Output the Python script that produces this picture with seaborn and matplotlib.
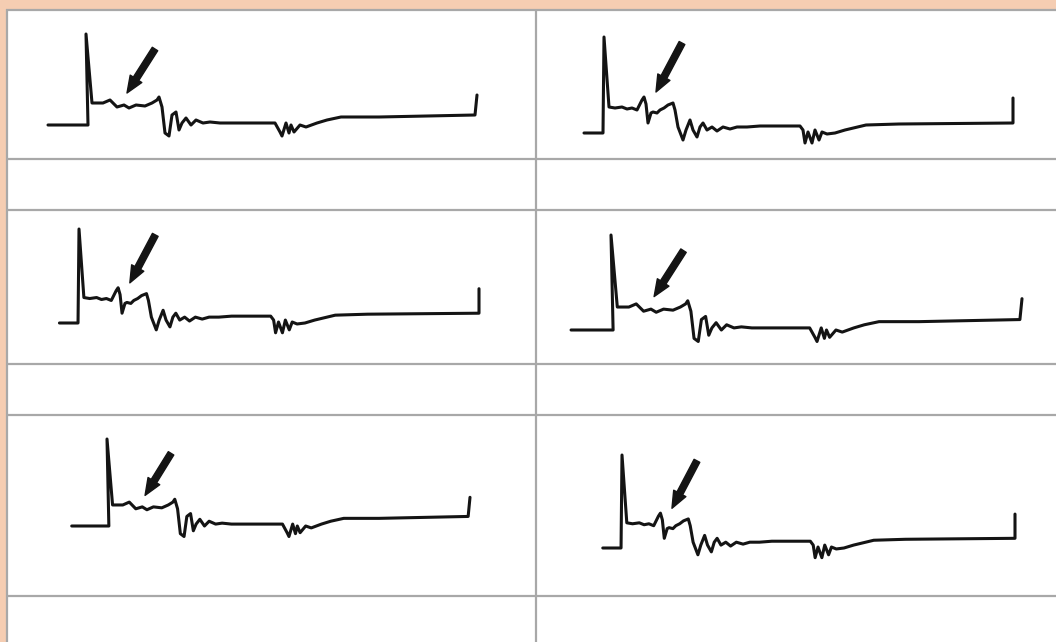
import matplotlib
matplotlib.use("Agg")
import matplotlib.pyplot as plt
import seaborn as sns
import numpy as np
from matplotlib.patches import Rectangle

sns.set_theme(style="white")

# ---- Trace variant A (pixel units of that panel)
trace_a_x = [48, 88, 86, 92, 103, 110, 117, 124, 129, 136, 145, 152, 157, 159,
             162, 165, 169, 172, 176, 179, 182, 186, 191, 196, 203, 210, 220,
             241, 275, 280, 282, 286, 289, 291, 294, 300, 306, 317, 327, 341,
             379, 475, 477]
trace_a_y = [125, 125, 34, 103, 103, 100, 107, 105, 108, 105, 106, 103, 100, 97,
             107, 133, 136, 115, 112, 130, 123, 118, 125, 120, 123, 122, 123,
             123, 123, 132, 136, 123, 133, 125, 132, 125, 127, 123, 120, 117,
             117, 115, 95]
arrow_a_tail = (155, 49)
arrow_a_tip = (127, 93)

# ---- Trace variant B (pixel units of that panel)
trace_b_x = [584, 603, 604, 609, 615, 622, 627, 632, 637, 642, 644, 646, 648,
             651, 653, 657, 660, 664, 668, 673, 675, 678, 683, 686, 690, 693,
             697, 700, 703, 707, 712, 717, 723, 730, 737, 747, 760, 800, 803,
             805, 808, 812, 815, 819, 822, 827, 835, 845, 866, 899, 1013, 1013]
trace_b_y = [133, 133, 37, 107, 108, 107, 109, 108, 110, 100, 97, 104, 123,
             113, 112, 113, 110, 108, 105, 103, 110, 127, 140, 130, 120, 130,
             137, 127, 123, 130, 127, 131, 127, 129, 127, 127, 126, 126, 130,
             143, 132, 143, 130, 140, 132, 134, 133, 130, 125, 124, 123, 98]
arrow_b_tail = (682, 43)
arrow_b_tip = (656, 92)

# anchors of each template: spike x, end x, baseline y, spike-top y
template_anchor = {"A": (86, 477, 125, 34), "B": (604, 1013, 133, 37)}

# ---- Panels: variant + placement in the figure (layout, pixels)
panel_variant = ["A", "B", "B", "A", "A", "B"]
panel_place = [(86, 477, 125, 34), (604, 1013, 133, 37),
               (79, 479, 323, 229), (611, 1022, 330, 235),
               (107, 470, 526, 439), (622, 1015, 548, 455)]

W, H = 1056, 642
fig = plt.figure(figsize=(W / 100, H / 100), dpi=100)

# ---- table background
bg = fig.add_axes([0, 0, 1, 1])
bg.set_xlim(0, W)
bg.set_ylim(H, 0)
bg.axis("off")
peach = "#f5cdb2"
grid = "#a8a8a8"
bg.add_patch(Rectangle((0, 0), W, H, color=peach, zorder=0))
bg.add_patch(Rectangle((7, 10), W - 7, H - 10, color="white", zorder=1))
row_lines = [9.5, 159, 210, 363.5, 415, 596]
bg.hlines(row_lines, 6, W, color=grid, lw=1.6, zorder=2)
bg.vlines([6.5, 536], 9, H, color=grid, lw=1.6, zorder=2)

traces = {"A": (trace_a_x, trace_a_y, arrow_a_tail, arrow_a_tip),
          "B": (trace_b_x, trace_b_y, arrow_b_tail, arrow_b_tip)}

for var, (xs, xe, yb, yt) in zip(panel_variant, panel_place):
    tx, ty, tail, tip = traces[var]
    txs, txe, tyb, tyt = template_anchor[var]
    k = (xe - xs) / (txe - txs)
    m = (yb - yt) / (tyb - tyt)
    x0 = txs - xs / k
    ytop = tyb - yb / m
    ax = fig.add_axes([0, 0, 1, 1])
    ax.patch.set_alpha(0)
    sns.lineplot(x=tx, y=ty, sort=False, estimator=None, color="#141414",
                 lw=2.2, ax=ax, legend=False, solid_joinstyle="round",
                 solid_capstyle="round")
    ax.annotate("", xy=tip, xytext=tail,
                arrowprops=dict(arrowstyle="simple,head_width=0.9,head_length=1.1,tail_width=0.42",
                                fc="#141414", ec="#141414", shrinkA=0, shrinkB=0,
                                mutation_scale=11))
    ax.set_xlim(x0, x0 + W / k)
    ax.set_ylim(ytop + H / m, ytop)
    ax.axis("off")

fig.savefig("out.png", dpi=100)
